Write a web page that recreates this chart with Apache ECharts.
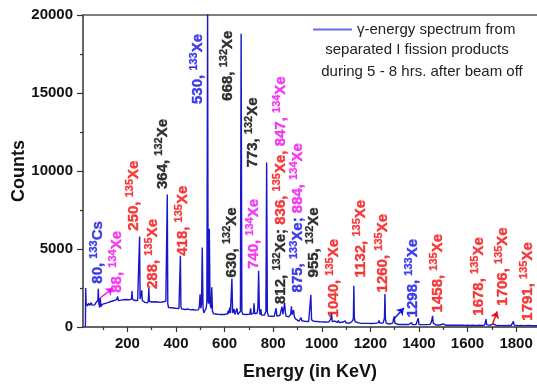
<!DOCTYPE html>
<html>
  <head>
    <meta charset="utf-8" />
    <title>γ-energy spectrum</title>
    <script src="https://cdn.jsdelivr.net/npm/echarts@6.0.0/dist/echarts.min.js"></script>
    <style>
      body { margin: 0; background: #fff; }
      #chart { width: 537px; height: 385px; }
    </style>
  </head>
  <body>
    <div id="chart"></div>
    <script>
      const FONT = 'Liberation Sans, Arial, sans-serif';

      // x axis ticks (keV) and y axis range
      const energyTicks = [200, 400, 600, 800, 1000, 1200, 1400, 1600, 1800];
      const energyMinorTicks = [100, 300, 500, 700, 900, 1100, 1300, 1500, 1700];
      const countTicks = [0, 5000, 10000, 15000, 20000];

      const spectrumName = 'γ-energy spectrum from';
      const legendMoreLines = ['separated I fission products', 'during 5 - 8 hrs. after beam off'];

      // [energy keV, counts]
      const spectrum = [
        [27, 0], [28, 2500], [30, 1500], [35, 1350], [40, 1520], [45, 1380], [50, 1560], [55, 1400],
        [60, 1500], [65, 1420], [70, 1550], [75, 1480], [78, 1700], [80, 2450], [82, 1600], [85, 1250],
        [88, 1850], [91, 1300], [96, 1450], [101, 1350], [106, 1500], [111, 1420], [116, 1550], [121, 1500],
        [125, 1600], [130, 1550], [135, 1650], [140, 1600], [145, 1700], [148, 1650], [151, 1780], [155, 1760],
        [158, 1700], [160, 1950], [162, 1700], [167, 1780], [172, 1720], [178, 1800], [184, 1750], [190, 1720],
        [196, 1760], [202, 1700], [208, 1740], [214, 1700], [217, 1800], [219, 2300], [221, 1750], [226, 1680],
        [232, 1700], [238, 1650], [242, 1700], [246, 1650], [248, 1800], [250, 5800], [252, 1800], [256, 1700],
        [259, 2350], [261, 1700], [266, 1620], [272, 1580], [278, 1600], [283, 1550], [286, 1700], [288, 2500],
        [290, 1650], [294, 1550], [300, 1600], [306, 1570], [312, 1620], [318, 1580], [324, 1600], [330, 1620],
        [336, 1580], [342, 1650], [348, 1620], [354, 1600], [358, 1650], [362, 1700], [364, 8500], [366, 1500],
        [369, 1250], [375, 1200], [382, 1230], [390, 1180], [398, 1200], [405, 1150], [412, 1180], [416, 1250],
        [418, 4570], [420, 1300], [424, 1150], [432, 1180], [440, 1120], [450, 1150], [460, 1100], [470, 1120],
        [480, 1080], [488, 1050], [492, 1100], [496, 1300], [499, 2100], [502, 1200], [505, 1500], [508, 5100],
        [511, 1300], [514, 900], [519, 1000], [524, 1200], [527, 1600], [530, 20500], [532, 1800], [534, 1500],
        [537, 6300], [540, 1500], [544, 1200], [547, 2550], [550, 1000], [555, 850], [562, 800], [570, 820],
        [578, 780], [586, 800], [594, 760], [600, 800], [606, 780], [612, 850], [615, 1050], [617, 850],
        [621, 1250], [624, 900], [627, 950], [630, 3100], [633, 900], [636, 850], [639, 1150], [642, 800],
        [648, 850], [651, 1200], [654, 800], [660, 850], [665, 1000], [668, 18800], [671, 1000], [675, 820],
        [682, 780], [690, 800], [698, 760], [704, 820], [707, 1200], [710, 800], [716, 780], [719, 900],
        [721, 1520], [724, 850], [729, 820], [734, 900], [737, 1300], [740, 3600], [743, 1100], [746, 800],
        [749, 1150], [752, 760], [758, 780], [763, 760], [768, 800], [770, 1000], [773, 10550], [776, 950],
        [780, 700], [786, 720], [792, 690], [798, 700], [804, 680], [809, 720], [812, 1200], [815, 700],
        [822, 680], [828, 750], [833, 800], [836, 1300], [840, 800], [844, 900], [847, 1550], [850, 950],
        [853, 700], [858, 680], [864, 650], [868, 700], [872, 800], [875, 1320], [878, 800], [881, 750],
        [884, 1080], [887, 650], [893, 500], [900, 420], [906, 380], [912, 440], [915, 600], [918, 400],
        [924, 380], [932, 360], [940, 380], [946, 350], [952, 420], [955, 2070], [958, 450], [962, 350],
        [968, 360], [974, 340], [980, 350], [988, 340], [996, 330], [1004, 340], [1012, 320], [1020, 330],
        [1028, 310], [1034, 350], [1037, 500], [1040, 900], [1043, 350], [1048, 300], [1054, 380], [1058, 300],
        [1064, 290], [1068, 420], [1072, 290], [1080, 280], [1086, 300], [1092, 280], [1096, 400], [1100, 260],
        [1108, 250], [1116, 260], [1122, 300], [1127, 400], [1130, 550], [1132, 2650], [1134, 600], [1137, 350],
        [1142, 260], [1148, 280], [1152, 400], [1156, 250], [1162, 230], [1168, 330], [1172, 230], [1180, 220],
        [1188, 230], [1196, 210], [1204, 220], [1212, 210], [1220, 230], [1228, 220], [1233, 280], [1236, 420],
        [1239, 250], [1245, 220], [1252, 260], [1256, 450], [1258, 600], [1260, 2110], [1262, 500], [1265, 250],
        [1270, 200], [1278, 190], [1286, 200], [1292, 250], [1294, 350], [1298, 680], [1301, 250], [1306, 170],
        [1314, 160], [1322, 170], [1330, 160], [1338, 150], [1346, 170], [1350, 150], [1358, 160], [1366, 150],
        [1370, 280], [1373, 150], [1380, 150], [1388, 160], [1394, 180], [1397, 570], [1400, 160], [1408, 140],
        [1416, 150], [1424, 140], [1432, 150], [1440, 140], [1446, 170], [1452, 350], [1456, 720], [1459, 250],
        [1464, 140], [1470, 130], [1478, 120], [1486, 130], [1494, 120], [1500, 200], [1503, 120], [1512, 110],
        [1520, 120], [1530, 110], [1540, 120], [1550, 110], [1560, 110], [1568, 150], [1571, 110], [1580, 110],
        [1590, 100], [1600, 110], [1610, 100], [1620, 110], [1630, 100], [1640, 100], [1650, 110], [1660, 100],
        [1670, 120], [1673, 250], [1676, 510], [1679, 150], [1684, 100], [1692, 100], [1700, 110], [1706, 200],
        [1710, 100], [1720, 90], [1730, 100], [1740, 90], [1750, 100], [1760, 90], [1770, 100], [1780, 100],
        [1786, 160], [1789, 360], [1792, 120], [1800, 90], [1810, 90], [1820, 100], [1830, 90], [1840, 90],
        [1850, 100], [1860, 90], [1870, 90], [1880, 80], [1886, 80]
      ];

      // where each rotated peak label starts: [energy keV, counts]
      const labelPos = [
        [75, 2840], [152, 2260], [222, 6240], [302, 2500], [341, 8910], [426, 4630],
        [487, 14360], [611, 14570], [624, 3240], [714, 10290], [716, 3780], [829, 1540],
        [897, 2280], [963, 3240], [1046, 680], [1157, 3240], [1246, 2280], [1370, 680],
        [1473, 1000], [1643, 790], [1741, 1430], [1844, 470]
      ];
      // label text pieces: [text, style]  (b blue, r red, m magenta, k black; "s" = superscript)
      const labelText = [
        [['80, ', 'b'], ['133', 'bs'], ['Cs', 'b']],
        [['88, ', 'm'], ['134', 'ms'], ['Xe', 'm']],
        [['250, ', 'r'], ['135', 'rs'], ['Xe', 'r']],
        [['288, ', 'r'], ['135', 'rs'], ['Xe', 'r']],
        [['364, ', 'k'], ['132', 'ks'], ['Xe', 'k']],
        [['418, ', 'r'], ['135', 'rs'], ['Xe', 'r']],
        [['530, ', 'b'], ['133', 'bs'], ['Xe', 'b']],
        [['668, ', 'k'], ['132', 'ks'], ['Xe', 'k']],
        [['630, ', 'k'], ['132', 'ks'], ['Xe', 'k']],
        [['773, ', 'k'], ['132', 'ks'], ['Xe', 'k']],
        [['740, ', 'm'], ['134', 'ms'], ['Xe', 'm']],
        [['812, ', 'k'], ['132', 'ks'], ['Xe; ', 'k'], ['836, ', 'r'], ['135', 'rs'], ['Xe, ', 'r'],
         ['847, ', 'm'], ['134', 'ms'], ['Xe', 'm']],
        [['875, ', 'b'], ['133', 'bs'], ['Xe; ', 'b'], ['884, ', 'm'], ['134', 'ms'], ['Xe', 'm']],
        [['955, ', 'k'], ['132', 'ks'], ['Xe', 'k']],
        [['1040, ', 'r'], ['135', 'rs'], ['Xe', 'r']],
        [['1132, ', 'r'], ['135', 'rs'], ['Xe', 'r']],
        [['1260, ', 'r'], ['135', 'rs'], ['Xe', 'r']],
        [['1298, ', 'b'], ['133', 'bs'], ['Xe', 'b']],
        [['1458, ', 'r'], ['135', 'rs'], ['Xe', 'r']],
        [['1678, ', 'r'], ['135', 'rs'], ['Xe', 'r']],
        [['1706, ', 'r'], ['135', 'rs'], ['Xe', 'r']],
        [['1791, ', 'r'], ['135', 'rs'], ['Xe', 'r']]
      ];

      // arrows from small peaks to their labels: [from, to, colour key]
      const arrows = [
        [[88, 1860], [140, 2500], 'm'],
        [[1294, 470], [1338, 1220], 'b'],
        [[1702, 150], [1722, 1000], 'r']
      ];

      const colors = { b: '#1010e6', r: '#f20f0f', m: '#f010f0', k: '#000000' };

      const rich = {};
      Object.keys(colors).forEach(function (k) {
        rich[k] = { color: colors[k], fontSize: 15, fontWeight: 'bold', fontFamily: FONT, verticalAlign: 'bottom',
                    textBorderColor: colors[k], textBorderWidth: 0.4 };
        rich[k + 's'] = { color: colors[k], fontSize: 11, fontWeight: 'bold', fontFamily: FONT,
                          lineHeight: 17, verticalAlign: 'top', textBorderColor: colors[k], textBorderWidth: 0.3 };
      });

      const plain = function (v) { return String(v); };

      const chart = echarts.init(document.getElementById('chart'), null, { renderer: 'canvas' });

      const axisColor = '#333';
      const option = {
        animation: false,
        textStyle: { fontFamily: FONT },
        grid: { left: 83, right: 0, top: 15, bottom: 58, containLabel: false, outerBoundsMode: 'none' },
        legend: {
          data: [spectrumName],
          left: 308, top: 17,
          icon: 'rect',
          itemWidth: 39, itemHeight: 2,
          itemStyle: { color: '#6c6ce0' },
          textStyle: { fontSize: 15, color: '#222', fontFamily: FONT }
        },
        graphic: legendMoreLines.map(function (t, i) {
          return {
            type: 'text', x: [417, 422][i], y: 50 + i * 22,
            style: { text: t, fontSize: 15, fill: '#222', fontFamily: FONT,
                     align: 'center', verticalAlign: 'middle' }
          };
        }),
        xAxis: [
          {
            type: 'value', min: 17, max: 1886, position: 'bottom',
            name: 'Energy (in KeV)', nameLocation: 'middle', nameGap: 36,
            nameTextStyle: { fontSize: 18, fontWeight: 'bold', color: '#111', fontFamily: FONT },
            axisLine: { onZero: false, lineStyle: { color: axisColor, width: 1.5 } },
            axisTick: { customValues: energyTicks, length: 5, lineStyle: { color: axisColor, width: 1.2 } },
            axisLabel: { customValues: energyTicks, formatter: plain, margin: 9, fontSize: 15,
                         fontWeight: 'bold', color: '#111', fontFamily: FONT },
            splitLine: { show: false }
          },
          {
            type: 'value', min: 17, max: 1886, position: 'bottom',
            axisLine: { show: false, onZero: false },
            axisTick: { customValues: energyMinorTicks, length: 3, lineStyle: { color: axisColor, width: 1.2 } },
            axisLabel: { show: false },
            splitLine: { show: false }
          },
          {
            type: 'value', min: 17, max: 1886, position: 'top',
            axisLine: { onZero: false, lineStyle: { color: '#555', width: 1.5 } },
            axisTick: { show: false }, axisLabel: { show: false }, splitLine: { show: false }
          }
        ],
        yAxis: {
          type: 'value', min: countTicks[0], max: countTicks[countTicks.length - 1], interval: 5000,
          name: 'Counts', nameLocation: 'middle', nameGap: 55, nameMoveOverlap: false,
          nameTextStyle: { fontSize: 18, fontWeight: 'bold', color: '#111', fontFamily: FONT },
          axisLine: { show: true, onZero: false, lineStyle: { color: axisColor, width: 1.5 } },
          axisTick: { show: true, length: 6, lineStyle: { color: axisColor, width: 1.2 } },
          minorTick: { show: true, splitNumber: 2, length: 3, lineStyle: { color: axisColor, width: 1.2 } },
          axisLabel: { formatter: plain, margin: 10, fontSize: 15, fontWeight: 'bold', color: '#111', fontFamily: FONT },
          splitLine: { show: false }
        },
        series: [
          {
            name: spectrumName,
            type: 'line',
            data: spectrum,
            symbol: 'none',
            sampling: null,
            clip: true,
            lineStyle: { color: '#1818c8', width: 1.4 },
            itemStyle: { color: '#1818c8' },
            z: 3,
            markLine: {
              silent: true,
              symbol: ['none', 'arrow'],
              symbolSize: 7,
              label: { show: false },
              data: arrows.map(function (a) {
                return [
                  { coord: a[0], lineStyle: { color: colors[a[2]], width: 1.5, type: 'solid' } },
                  { coord: a[1] }
                ];
              })
            }
          },
          {
            name: 'labels',
            type: 'scatter',
            data: labelPos,
            symbolSize: 0.1,
            itemStyle: { color: 'transparent' },
            silent: true,
            z: 4,
            label: {
              show: true,
              position: 'inside',
              rotate: 90,
              align: 'left',
              verticalAlign: 'middle',
              offset: [-1, 0],
              formatter: function (p) {
                return labelText[p.dataIndex].map(function (s) {
                  return '{' + s[1] + '|' + s[0] + '}';
                }).join('');
              },
              rich: rich
            }
          }
        ]
      };

      chart.setOption(option);
    </script>
  </body>
</html>
